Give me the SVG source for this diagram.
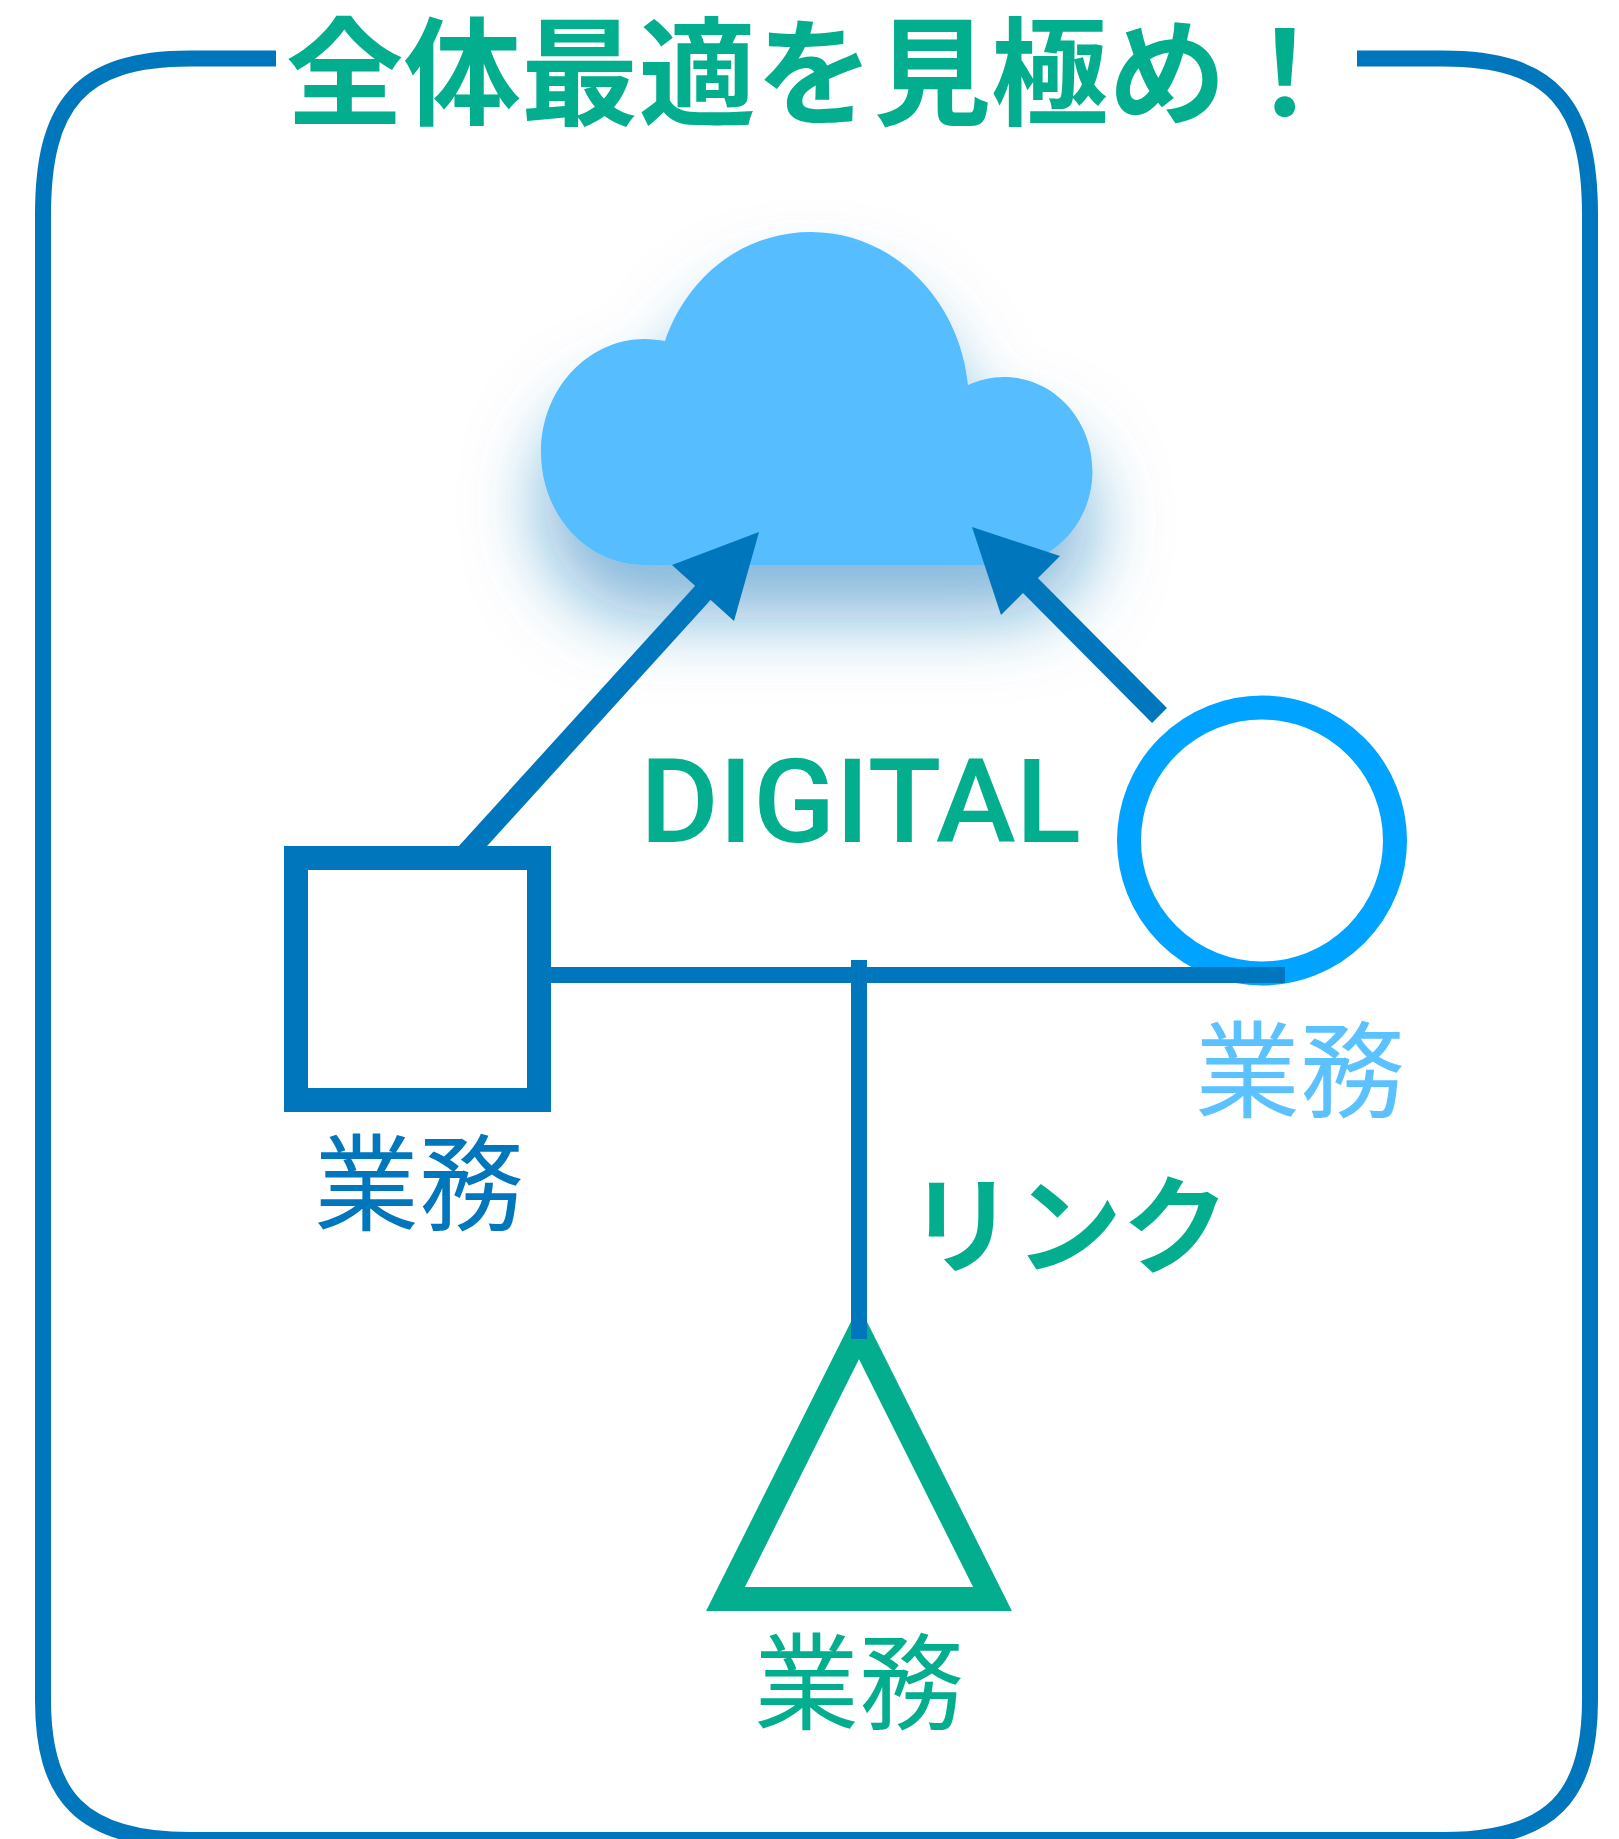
<svg xmlns="http://www.w3.org/2000/svg" width="1619" height="1839" viewBox="0 0 1619 1839">
<style>
.cjk{font-family:"Noto Sans CJK JP","Noto Sans CJK SC",sans-serif}
.g{fill:#03ae8f}
.b{font-size:105px;font-weight:400}
.s{fill:none;stroke-width:24}
.l{stroke:#0076bc;stroke-width:16;fill:none}
.w{stroke:#0076bc;stroke-width:21;fill:none}
.a{fill:#0076bc}
</style>
<defs>
<filter id="sh" x="-30%" y="-30%" width="160%" height="190%"><feDropShadow dx="0" dy="52" stdDeviation="36" flood-color="#0877bb" flood-opacity="0.52"/></filter>
</defs>
<rect width="1619" height="1839" fill="#fff"/>
<g id="frame"><path class="l" d="M276 58.500H190C80 58.500 43 105 43 215V1700C43 1795 80 1840 190 1840H1443C1553 1840 1590 1795 1590 1700V215C1590 105 1553 58.500 1443 58.500H1357"/></g>
<g id="title"><text class="cjk g" x="286" y="116" font-size="117.500" font-weight="700">全体最適を見極め！</text></g>
<g id="cloud"><path fill="#57bdff" filter="url(#sh)" d="M645 565C587 565 541 515 541 452C541 390 587 339 645 339C652 339 659 340 665 341C688 275 744 232 811 232C893 232 960 300 968 385C979 380 991 377 1004 377C1053 377 1092.500 419 1092.500 471C1092.500 523 1053 565 1004 565Z"/></g>
<g id="square"><rect class="s" x="296" y="858" width="243" height="242" stroke="#0076bc"/><text class="cjk b" x="314" y="1222" fill="#0076bc">業務</text></g>
<g id="circle"><circle class="s" cx="1262" cy="840.500" r="133" stroke="#00a3ff"/><text class="cjk b" x="1195" y="1109" fill="#5cc1ff">業務</text></g>
<g id="triangle"><path class="s" d="M859 1332.500L992.500 1599H725.500Z" stroke="#03ae8f"/><text class="cjk b g" x="754" y="1721">業務</text></g>
<g id="connectors">
<path class="w" d="M463 857L720 574"/>
<path class="a" d="M759 532L734 621L672 565Z"/>
<path class="w" d="M1159.500 715.500L1015 570"/>
<path class="a" d="M972 527L1060 556L1001 615Z"/>
<path class="l" d="M551 975H1285M859 960V1339"/>
</g>
<text class="g" x="640" y="842" font-family="Roboto,sans-serif" font-size="116" font-weight="500" textLength="441" lengthAdjust="spacingAndGlyphs">DIGITAL</text>
<text class="cjk g" x="908" y="1265" font-size="107" font-weight="700">リンク</text>
</svg>
